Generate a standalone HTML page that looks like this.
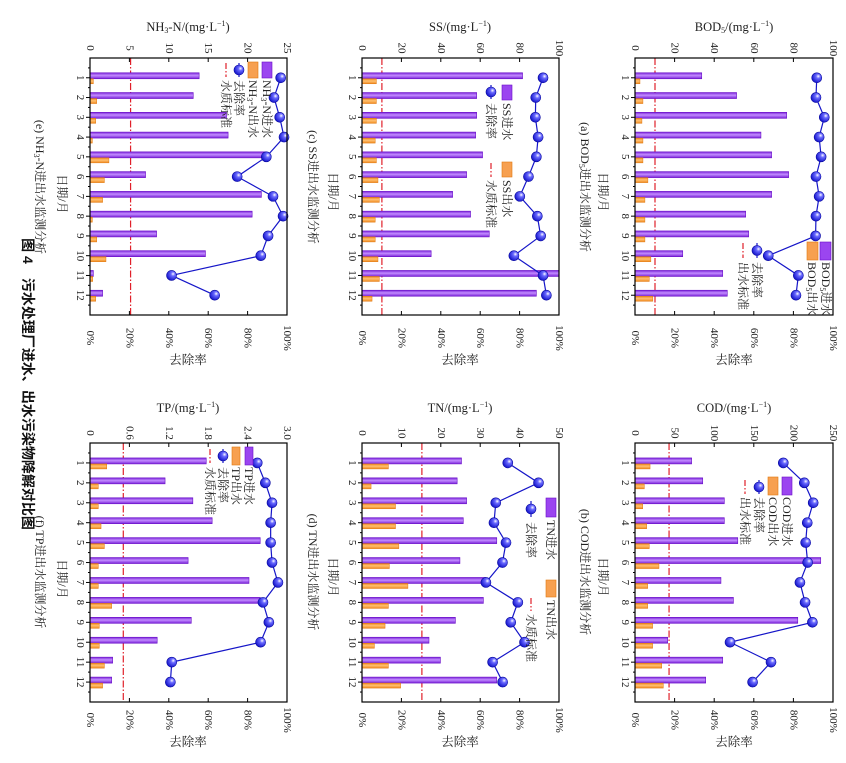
<!DOCTYPE html>
<html><head><meta charset="utf-8"><style>
body{margin:0;background:#fff}
svg{display:block}
text{font-family:"Liberation Serif","Noto Serif CJK SC",serif;font-size:11px;fill:#222}
.c{text-anchor:middle;dominant-baseline:central}
.s{text-anchor:start;dominant-baseline:central}
.cn{font-family:"Liberation Serif","Noto Serif CJK SC",serif;font-size:12px}
.h{text-anchor:middle;dominant-baseline:central;font-size:12.5px}
</style></head><body>
<svg id="sv" width="846" height="763" viewBox="0 0 846 763" xmlns="http://www.w3.org/2000/svg">
<defs>
<linearGradient id="gp" x1="0" y1="0" x2="0" y2="1"><stop offset="0" stop-color="#7a22d8"/><stop offset="0.45" stop-color="#c28cff"/><stop offset="1" stop-color="#7a22d8"/></linearGradient>
<linearGradient id="go" x1="0" y1="0" x2="0" y2="1"><stop offset="0" stop-color="#f08a20"/><stop offset="0.45" stop-color="#ffc070"/><stop offset="1" stop-color="#f08a20"/></linearGradient>
<radialGradient id="gd" cx="0.65" cy="0.35" r="0.7"><stop offset="0" stop-color="#ffffff"/><stop offset="0.3" stop-color="#6a6aff"/><stop offset="1" stop-color="#1010c8"/></radialGradient>
</defs>
<g id="shapes"></g>

<!-- Panel a -->
<text class="h" x="734" y="27">BOD<tspan font-size="8" dy="3">5</tspan><tspan dy="-3">/(mg·L</tspan><tspan font-size="8" dy="-4">−1</tspan><tspan dy="4">)</tspan></text>
<text class="c" transform="translate(635,48) rotate(90)">0</text>
<text class="c" transform="translate(674.6,48) rotate(90)">20</text>
<text class="c" transform="translate(714.2,48) rotate(90)">40</text>
<text class="c" transform="translate(753.8,48) rotate(90)">60</text>
<text class="c" transform="translate(793.4,48) rotate(90)">80</text>
<text class="c" transform="translate(833,48) rotate(90)">100</text>
<text class="c" transform="translate(635,338) rotate(90)">0%</text>
<text class="c" transform="translate(674.6,338) rotate(90)">20%</text>
<text class="c" transform="translate(714.2,338) rotate(90)">40%</text>
<text class="c" transform="translate(753.8,338) rotate(90)">60%</text>
<text class="c" transform="translate(793.4,338) rotate(90)">80%</text>
<text class="c" transform="translate(833,338) rotate(90)">100%</text>
<text class="h cn" x="734" y="360">去除率</text>
<text class="c" transform="translate(625,58) rotate(90)"><tspan x="19.8">1</tspan><tspan x="39.5">2</tspan><tspan x="59.3">3</tspan><tspan x="79.1">4</tspan><tspan x="98.8">5</tspan><tspan x="118.6">6</tspan><tspan x="138.4">7</tspan><tspan x="158.2">8</tspan><tspan x="177.9">9</tspan><tspan x="197.7">10</tspan><tspan x="217.5">11</tspan><tspan x="237.2">12</tspan></text>
<text class="c cn" transform="translate(603,192) rotate(90)">日期/月</text>
<text class="c cn" transform="translate(585,187) rotate(90)">(a) BOD<tspan font-size="8" dy="3">5</tspan><tspan dy="-3">进出水监测分析</tspan></text>
<text class="s cn" transform="translate(826,262) rotate(90)">BOD<tspan font-size="8" dy="3">5</tspan><tspan dy="-3">进水</tspan></text>
<text class="s cn" transform="translate(812,262) rotate(90)">BOD<tspan font-size="8" dy="3">5</tspan><tspan dy="-3">出水</tspan></text>
<text class="s cn" transform="translate(757,262) rotate(90)">去除率</text>
<text class="s cn" transform="translate(743,262) rotate(90)">出水标准</text>

<!-- Panel b -->
<text class="h" x="734" y="408">COD/(mg·L<tspan font-size="8" dy="-4">−1</tspan><tspan dy="4">)</tspan></text>
<text class="c" transform="translate(635,433) rotate(90)">0</text>
<text class="c" transform="translate(674.6,433) rotate(90)">50</text>
<text class="c" transform="translate(714.2,433) rotate(90)">100</text>
<text class="c" transform="translate(753.8,433) rotate(90)">150</text>
<text class="c" transform="translate(793.4,433) rotate(90)">200</text>
<text class="c" transform="translate(833,433) rotate(90)">250</text>
<text class="c" transform="translate(635,720) rotate(90)">0%</text>
<text class="c" transform="translate(674.6,720) rotate(90)">20%</text>
<text class="c" transform="translate(714.2,720) rotate(90)">40%</text>
<text class="c" transform="translate(753.8,720) rotate(90)">60%</text>
<text class="c" transform="translate(793.4,720) rotate(90)">80%</text>
<text class="c" transform="translate(833,720) rotate(90)">100%</text>
<text class="h cn" x="734" y="742">去除率</text>
<text class="c" transform="translate(625,443) rotate(90)"><tspan x="19.9">1</tspan><tspan x="39.8">2</tspan><tspan x="59.8">3</tspan><tspan x="79.7">4</tspan><tspan x="99.6">5</tspan><tspan x="119.5">6</tspan><tspan x="139.4">7</tspan><tspan x="159.4">8</tspan><tspan x="179.3">9</tspan><tspan x="199.2">10</tspan><tspan x="219.1">11</tspan><tspan x="239">12</tspan></text>
<text class="c cn" transform="translate(603,577) rotate(90)">日期/月</text>
<text class="c cn" transform="translate(585,572) rotate(90)">(b) COD进出水监测分析</text>
<text class="s cn" transform="translate(787,497) rotate(90)">COD进水</text>
<text class="s cn" transform="translate(773,497) rotate(90)">COD出水</text>
<text class="s cn" transform="translate(759,497) rotate(90)">去除率</text>
<text class="s cn" transform="translate(745,497) rotate(90)">出水标准</text>

<!-- Panel c -->
<text class="h" x="460" y="27">SS/(mg·L<tspan font-size="8" dy="-4">−1</tspan><tspan dy="4">)</tspan></text>
<text class="c" transform="translate(362,48) rotate(90)">0</text>
<text class="c" transform="translate(401.4,48) rotate(90)">20</text>
<text class="c" transform="translate(440.8,48) rotate(90)">40</text>
<text class="c" transform="translate(480.2,48) rotate(90)">60</text>
<text class="c" transform="translate(519.6,48) rotate(90)">80</text>
<text class="c" transform="translate(559,48) rotate(90)">100</text>
<text class="c" transform="translate(362,338) rotate(90)">0%</text>
<text class="c" transform="translate(401.4,338) rotate(90)">20%</text>
<text class="c" transform="translate(440.8,338) rotate(90)">40%</text>
<text class="c" transform="translate(480.2,338) rotate(90)">60%</text>
<text class="c" transform="translate(519.6,338) rotate(90)">80%</text>
<text class="c" transform="translate(559,338) rotate(90)">100%</text>
<text class="h cn" x="460" y="360">去除率</text>
<text class="c" transform="translate(352,58) rotate(90)"><tspan x="19.8">1</tspan><tspan x="39.5">2</tspan><tspan x="59.3">3</tspan><tspan x="79.1">4</tspan><tspan x="98.8">5</tspan><tspan x="118.6">6</tspan><tspan x="138.4">7</tspan><tspan x="158.2">8</tspan><tspan x="177.9">9</tspan><tspan x="197.7">10</tspan><tspan x="217.5">11</tspan><tspan x="237.2">12</tspan></text>
<text class="c cn" transform="translate(333,192) rotate(90)">日期/月</text>
<text class="c cn" transform="translate(313,187) rotate(90)">(c) SS进出水监测分析</text>
<text class="s cn" transform="translate(507,103) rotate(90)">SS进水</text>
<text class="s cn" transform="translate(507,180) rotate(90)">SS出水</text>
<text class="s cn" transform="translate(491,103) rotate(90)">去除率</text>
<text class="s cn" transform="translate(491,180) rotate(90)">水质标准</text>

<!-- Panel d -->
<text class="h" x="460" y="408">TN/(mg·L<tspan font-size="8" dy="-4">−1</tspan><tspan dy="4">)</tspan></text>
<text class="c" transform="translate(362,433) rotate(90)">0</text>
<text class="c" transform="translate(401.4,433) rotate(90)">10</text>
<text class="c" transform="translate(440.8,433) rotate(90)">20</text>
<text class="c" transform="translate(480.2,433) rotate(90)">30</text>
<text class="c" transform="translate(519.6,433) rotate(90)">40</text>
<text class="c" transform="translate(559,433) rotate(90)">50</text>
<text class="c" transform="translate(362,720) rotate(90)">0%</text>
<text class="c" transform="translate(401.4,720) rotate(90)">20%</text>
<text class="c" transform="translate(440.8,720) rotate(90)">40%</text>
<text class="c" transform="translate(480.2,720) rotate(90)">60%</text>
<text class="c" transform="translate(519.6,720) rotate(90)">80%</text>
<text class="c" transform="translate(559,720) rotate(90)">100%</text>
<text class="h cn" x="460" y="742">去除率</text>
<text class="c" transform="translate(352,443) rotate(90)"><tspan x="19.9">1</tspan><tspan x="39.8">2</tspan><tspan x="59.8">3</tspan><tspan x="79.7">4</tspan><tspan x="99.6">5</tspan><tspan x="119.5">6</tspan><tspan x="139.4">7</tspan><tspan x="159.4">8</tspan><tspan x="179.3">9</tspan><tspan x="199.2">10</tspan><tspan x="219.1">11</tspan><tspan x="239">12</tspan></text>
<text class="c cn" transform="translate(333,577) rotate(90)">日期/月</text>
<text class="c cn" transform="translate(313,572) rotate(90)">(d) TN进出水监测分析</text>
<text class="s cn" transform="translate(551,520) rotate(90)">TN进水</text>
<text class="s cn" transform="translate(551,600) rotate(90)">TN出水</text>
<text class="s cn" transform="translate(531,522) rotate(90)">去除率</text>
<text class="s cn" transform="translate(531,614) rotate(90)">水质标准</text>

<!-- Panel e -->
<text class="h" x="188" y="27">NH<tspan font-size="8" dy="3">3</tspan><tspan dy="-3">-N/(mg·L</tspan><tspan font-size="8" dy="-4">−1</tspan><tspan dy="4">)</tspan></text>
<text class="c" transform="translate(90,48) rotate(90)">0</text>
<text class="c" transform="translate(129.4,48) rotate(90)">5</text>
<text class="c" transform="translate(168.8,48) rotate(90)">10</text>
<text class="c" transform="translate(208.2,48) rotate(90)">15</text>
<text class="c" transform="translate(247.6,48) rotate(90)">20</text>
<text class="c" transform="translate(287,48) rotate(90)">25</text>
<text class="c" transform="translate(90,338) rotate(90)">0%</text>
<text class="c" transform="translate(129.4,338) rotate(90)">20%</text>
<text class="c" transform="translate(168.8,338) rotate(90)">40%</text>
<text class="c" transform="translate(208.2,338) rotate(90)">60%</text>
<text class="c" transform="translate(247.6,338) rotate(90)">80%</text>
<text class="c" transform="translate(287,338) rotate(90)">100%</text>
<text class="h cn" x="188" y="360">去除率</text>
<text class="c" transform="translate(80,58) rotate(90)"><tspan x="19.8">1</tspan><tspan x="39.5">2</tspan><tspan x="59.3">3</tspan><tspan x="79.1">4</tspan><tspan x="98.8">5</tspan><tspan x="118.6">6</tspan><tspan x="138.4">7</tspan><tspan x="158.2">8</tspan><tspan x="177.9">9</tspan><tspan x="197.7">10</tspan><tspan x="217.5">11</tspan><tspan x="237.2">12</tspan></text>
<text class="c cn" transform="translate(62,194) rotate(90)">日期/月</text>
<text class="c cn" transform="translate(40,187) rotate(90)">(e) NH<tspan font-size="8" dy="3">3</tspan><tspan dy="-3">-N进出水监测分析</tspan></text>
<text class="s cn" transform="translate(267,80) rotate(90)">NH<tspan font-size="8" dy="3">3</tspan><tspan dy="-3">-N进水</tspan></text>
<text class="s cn" transform="translate(253,80) rotate(90)">NH<tspan font-size="8" dy="3">3</tspan><tspan dy="-3">-N出水</tspan></text>
<text class="s cn" transform="translate(239,80) rotate(90)">去除率</text>
<text class="s cn" transform="translate(226,80) rotate(90)">水质标准</text>

<!-- Panel f -->
<text class="h" x="188" y="408">TP/(mg·L<tspan font-size="8" dy="-4">−1</tspan><tspan dy="4">)</tspan></text>
<text class="c" transform="translate(90,433) rotate(90)">0</text>
<text class="c" transform="translate(129.4,433) rotate(90)">0.6</text>
<text class="c" transform="translate(168.8,433) rotate(90)">1.2</text>
<text class="c" transform="translate(208.2,433) rotate(90)">1.8</text>
<text class="c" transform="translate(247.6,433) rotate(90)">2.4</text>
<text class="c" transform="translate(287,433) rotate(90)">3.0</text>
<text class="c" transform="translate(90,720) rotate(90)">0%</text>
<text class="c" transform="translate(129.4,720) rotate(90)">20%</text>
<text class="c" transform="translate(168.8,720) rotate(90)">40%</text>
<text class="c" transform="translate(208.2,720) rotate(90)">60%</text>
<text class="c" transform="translate(247.6,720) rotate(90)">80%</text>
<text class="c" transform="translate(287,720) rotate(90)">100%</text>
<text class="h cn" x="188" y="742">去除率</text>
<text class="c" transform="translate(80,443) rotate(90)"><tspan x="19.9">1</tspan><tspan x="39.8">2</tspan><tspan x="59.8">3</tspan><tspan x="79.7">4</tspan><tspan x="99.6">5</tspan><tspan x="119.5">6</tspan><tspan x="139.4">7</tspan><tspan x="159.4">8</tspan><tspan x="179.3">9</tspan><tspan x="199.2">10</tspan><tspan x="219.1">11</tspan><tspan x="239">12</tspan></text>
<text class="c cn" transform="translate(62,579) rotate(90)">日期/月</text>
<text class="c cn" transform="translate(40,572) rotate(90)">(f) TP进出水监测分析</text>
<text class="s cn" transform="translate(249,467) rotate(90)">TP进水</text>
<text class="s cn" transform="translate(236,467) rotate(90)">TP出水</text>
<text class="s cn" transform="translate(223,467) rotate(90)">去除率</text>
<text class="s cn" transform="translate(210,467) rotate(90)">水质标准</text>

<text class="c" transform="translate(28,384) rotate(90)" style="font-family:'Liberation Sans','Noto Sans CJK SC',sans-serif;font-size:14px;font-weight:bold;fill:#111">图 4　污水处理厂进水、出水污染物降解对比图</text>
</svg>
<script>
var NS="http://www.w3.org/2000/svg",G=document.getElementById("shapes");
function el(t,a){var e=document.createElementNS(NS,t);for(var k in a)e.setAttribute(k,a[k]);G.appendChild(e);return e;}
var P=[
{x0:635,x1:833,y0:58,y1:315,std:0.101,
 inf:[.337,.513,.766,.636,.69,.776,.69,.559,.574,.241,.443,.466],
 out:[.025,.04,.035,.04,.04,.065,.05,.05,.05,.08,.072,.09],
 r:[.918,.914,.956,.93,.94,.914,.93,.914,.912,.673,.825,.813],
 lg:{pv:[820,242,11,18],ov:[807,242,11,18],mk:[757,243,258],ds:[743,243,258]}},
{x0:635,x1:833,y0:443,y1:702,std:0.172,
 inf:[.286,.342,.451,.451,.519,.938,.434,.497,.822,.165,.443,.357],
 out:[.076,.047,.039,.059,.072,.121,.064,.064,.089,.089,.135,.143],
 r:[.749,.855,.9,.87,.862,.872,.833,.859,.896,.48,.687,.594],
 lg:{pv:[782,477,10,18],ov:[768,477,10,18],mk:[759,480,494],ds:[745,480,494]}},
{x0:362,x1:559,y0:58,y1:315,std:0.101,
 inf:[.815,.582,.582,.577,.612,.531,.46,.551,.646,.351,1.0,.885],
 out:[.073,.073,.073,.067,.073,.081,.088,.067,.067,.081,.088,.051],
 r:[.919,.882,.88,.894,.885,.845,.801,.89,.907,.771,.919,.936],
 lg:{pv:[502,85,10,15],ov:[502,162,10,15],mk:[491,85,99],ds:[491,163,177]}},
{x0:362,x1:559,y0:443,y1:702,std:0.304,
 inf:[.505,.483,.531,.514,.684,.497,.628,.616,.474,.34,.398,.684],
 out:[.134,.046,.17,.17,.187,.139,.233,.134,.117,.063,.134,.196],
 r:[.74,.896,.679,.67,.731,.713,.629,.791,.755,.825,.663,.714],
 lg:{pv:[546,498,10,19],ov:[546,580,10,17],mk:[531,501,517],ds:[531,598,611]}},
{x0:90,x1:287,y0:58,y1:315,std:0.206,
 inf:[.554,.524,.693,.701,.895,.282,.87,.823,.338,.586,.017,.064],
 out:[.017,.034,.029,.012,.096,.073,.064,.012,.034,.081,.014,.029],
 r:[.968,.934,.963,.985,.895,.747,.929,.98,.904,.867,.414,.633],
 lg:{pv:[262,62,10,16],ov:[248,62,10,16],mk:[239,63,77],ds:[226,63,77]}},
{x0:90,x1:287,y0:443,y1:702,std:0.169,
 inf:[.59,.381,.522,.62,.864,.498,.807,.864,.514,.341,.115,.11],
 out:[.085,.042,.042,.056,.073,.042,.042,.11,.047,.047,.073,.064],
 r:[.849,.89,.924,.917,.917,.924,.954,.878,.908,.866,.415,.408],
 lg:{pv:[245,447,8,18],ov:[232,447,8,18],mk:[223,449,463],ds:[210,449,463]}}
];
P.forEach(function(p){
 var w=p.x1-p.x0,h=p.y1-p.y0,st=h/13;
 for(var i=0;i<=5;i++){var x=p.x0+w*i/5;
  el("line",{x1:x,y1:p.y0,x2:x,y2:p.y0+4,stroke:"#000","stroke-width":1});
  el("line",{x1:x,y1:p.y1,x2:x,y2:p.y1-4,stroke:"#000","stroke-width":1});}
 for(var i=1;i<=25;i++){var y=p.y0+st*i/2;
  el("line",{x1:p.x0,y1:y,x2:p.x0-(i%2?2:4),y2:y,stroke:"#000","stroke-width":1});}
 el("line",{x1:p.x0+w*p.std,y1:p.y0,x2:p.x0+w*p.std,y2:p.y1,stroke:"#e0202a","stroke-width":1.2,"stroke-dasharray":"7 2 1.5 2"});
 for(var i=0;i<12;i++){var c=p.y0+st*(i+1);
  el("rect",{x:p.x0,y:c-5,width:w*p.inf[i],height:6,fill:"url(#gp)",stroke:"#6a10c8","stroke-width":0.6});
  el("rect",{x:p.x0,y:c+1,width:w*p.out[i],height:5,fill:"url(#go)",stroke:"#e07810","stroke-width":0.5});}
 var pts=p.r.map(function(v,i){return (p.x0+w*v)+","+(p.y0+st*(i+1));}).join(" ");
 el("polyline",{points:pts,fill:"none",stroke:"#1515c8","stroke-width":1.2});
 p.r.forEach(function(v,i){el("circle",{cx:p.x0+w*v,cy:p.y0+st*(i+1),r:5,fill:"url(#gd)",stroke:"#0a0aa0","stroke-width":0.6});});
 var L=p.lg;
 el("rect",{x:L.pv[0],y:L.pv[1],width:L.pv[2],height:L.pv[3],fill:"#9b45f0",stroke:"#6a10c8","stroke-width":0.6});
 el("rect",{x:L.ov[0],y:L.ov[1],width:L.ov[2],height:L.ov[3],fill:"#f7a050",stroke:"#e07810","stroke-width":0.6});
 el("line",{x1:L.mk[0],y1:L.mk[1],x2:L.mk[0],y2:L.mk[2],stroke:"#1515c8","stroke-width":1.2});
 el("circle",{cx:L.mk[0],cy:(L.mk[1]+L.mk[2])/2,r:5,fill:"url(#gd)",stroke:"#0a0aa0","stroke-width":0.6});
 el("line",{x1:L.ds[0],y1:L.ds[1],x2:L.ds[0],y2:L.ds[2],stroke:"#e0202a","stroke-width":1.2,"stroke-dasharray":"6 2 1.5 2"});
 el("rect",{x:p.x0,y:p.y0,width:w,height:h,fill:"none",stroke:"#000","stroke-width":1.2});
});
</script>
</body></html>
